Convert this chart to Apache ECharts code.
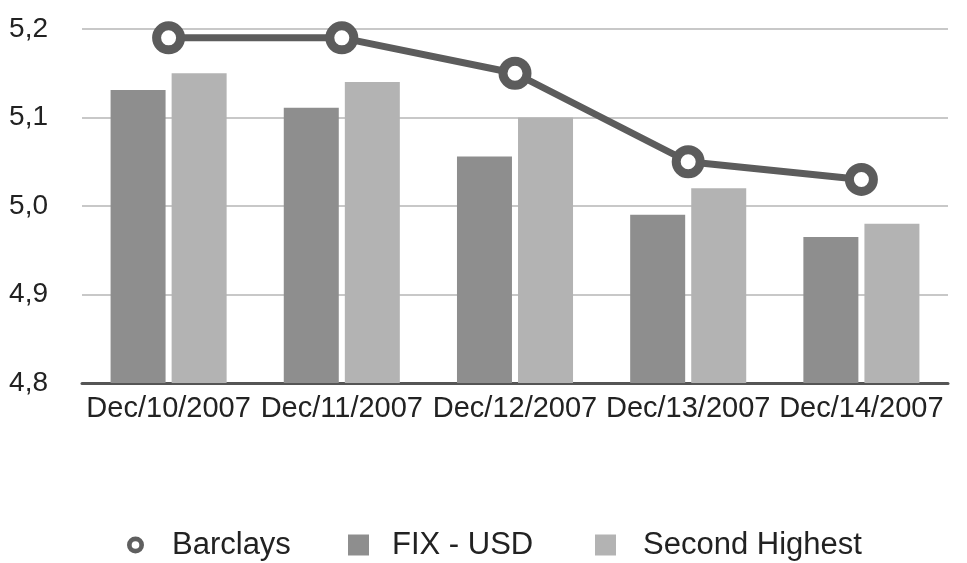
<!DOCTYPE html>
<html>
<head>
<meta charset="utf-8">
<script src="https://cdn.jsdelivr.net/npm/echarts@6/dist/echarts.min.js"></script>
<style>html,body{margin:0;padding:0;background:#fff}#c{width:967px;height:563px}</style>
</head>
<body>
<div id="c"></div>
<script>
const categories = ['Dec/10/2007','Dec/11/2007','Dec/12/2007','Dec/13/2007','Dec/14/2007'];
const barclays = [5.19, 5.19, 5.15, 5.05, 5.03];
const fixUsd = [5.131, 5.111, 5.056, 4.99, 4.965];
const secondHighest = [5.15, 5.14, 5.10, 5.02, 4.98];

const chart = echarts.init(document.getElementById('c'), null, {renderer:'canvas'});
const font = '"Liberation Sans", Arial, Helvetica, sans-serif';
const ring = 'path://M0,10a10,10 0 1,0 20,0a10,10 0 1,0 -20,0zM5.5,10a4.5,4.5 0 1,1 9,0a4.5,4.5 0 1,1 -9,0z';
const legText = pad => ({fontFamily: font, fontSize: 31, color: '#222', lineHeight: 34, padding: [0,0,0,pad]});
chart.setOption({
  animation: false,
  backgroundColor: '#fff',
  grid: {left: 82, right: 19, top: 29, bottom: 180},
  legend: [
    {top: 523, left: 122, itemWidth: 17, itemHeight: 17, data: [{name: 'Barclays', icon: ring, itemStyle: {color: '#5f5f5f', borderWidth: 0}}], textStyle: legText(23)},
    {top: 523, left: 343, itemWidth: 21, itemHeight: 21, data: [{name: 'FIX - USD', icon: 'rect'}], textStyle: legText(18)},
    {top: 523, left: 590, itemWidth: 21, itemHeight: 21, data: [{name: 'Second Highest', icon: 'rect'}], textStyle: legText(22)}
  ],
  xAxis: {
    type: 'category',
    data: categories,
    axisTick: {show: false},
    axisLine: {lineStyle: {color: '#555', width: 3}},
    axisLabel: {fontFamily: font, fontSize: 29, color: '#222', margin: 11, interval: 0}
  },
  yAxis: {
    type: 'value',
    min: 4.8, max: 5.2, interval: 0.1,
    axisLine: {show: false},
    axisTick: {show: false},
    splitLine: {lineStyle: {color: '#c8c8c8', width: 2}},
    axisLabel: {fontFamily: font, fontSize: 28, color: '#222', margin: 34,
      formatter: v => v.toFixed(1).replace('.', ',')}
  },
  series: [
    {name: 'Barclays', type: 'line', data: barclays, z: 5,
      symbol: 'circle', symbolSize: 24,
      lineStyle: {color: '#5c5c5c', width: 7},
      itemStyle: {color: '#fff', borderColor: '#5c5c5c', borderWidth: 9}},
    {name: 'FIX - USD', type: 'bar', data: fixUsd, barWidth: 55, barGap: '11%',
      itemStyle: {color: '#8e8e8e'}},
    {name: 'Second Highest', type: 'bar', data: secondHighest, barWidth: 55, barGap: '11%',
      itemStyle: {color: '#b3b3b3'}}
  ]
});
</script>
</body>
</html>
